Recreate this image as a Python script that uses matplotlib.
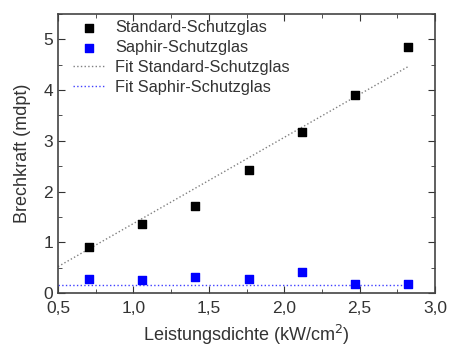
import matplotlib
matplotlib.use("Agg")
from matplotlib import pyplot as plt
from matplotlib.ticker import MultipleLocator, FuncFormatter

plt.rcParams['font.family'] = ['Liberation Sans', 'DejaVu Sans']

# measured values
x = [0.706, 1.06, 1.41, 1.765, 2.12, 2.47, 2.82]
standard = [0.91, 1.37, 1.72, 2.42, 3.17, 3.90, 4.84]
saphir = [0.28, 0.26, 0.31, 0.27, 0.41, 0.18, 0.17]

# fit lines (end points)
fit_x = [0.5, 2.82]
fit_standard = [0.52, 4.46]
fit_saphir = [0.16, 0.16]

fig = plt.figure(figsize=(4.59, 3.5), dpi=100)
ax = fig.add_axes([58/459, 1-293/350, 377/459, 279/350])

ax.plot(fit_x, fit_standard, ':', color='#808080', lw=1.0, label='Fit Standard-Schutzglas')
ax.plot(fit_x, fit_saphir, ':', color='#4040ff', lw=1.0, label='Fit Saphir-Schutzglas')
ax.scatter(x, standard, marker='s', s=36, color='black', label='Standard-Schutzglas', zorder=3)
ax.scatter(x, saphir, marker='s', s=36, color='#0000ff', label='Saphir-Schutzglas', zorder=3)

ax.set_xlim(0.5, 3.0)
ax.set_ylim(0, 5.5)
ax.xaxis.set_major_locator(MultipleLocator(0.5))
ax.xaxis.set_minor_locator(MultipleLocator(0.25))
ax.yaxis.set_major_locator(MultipleLocator(1))
ax.yaxis.set_minor_locator(MultipleLocator(0.5))
ax.xaxis.set_major_formatter(FuncFormatter(lambda v, p: ('%.1f' % v).replace('.', ',')))
ax.tick_params(which='both', direction='in', top=True, right=True, colors='#333333',
               labelcolor='#333333', labelsize=12.5)
ax.tick_params(which='major', length=5)
ax.tick_params(which='minor', length=3)
ax.tick_params(axis='x', pad=6)
for s in ax.spines.values():
    s.set_color('#444444')
    s.set_linewidth(1.2)

ax.set_xlabel('Leistungsdichte (kW/cm$^2$)', fontsize=13, color='#333333', labelpad=5)
ax.set_ylabel('Brechkraft (mdpt)', fontsize=13, color='#333333', labelpad=9)

handles, labels = ax.get_legend_handles_labels()
order = [2, 3, 0, 1]
ax.legend([handles[i] for i in order], [labels[i] for i in order], loc='upper left',
          frameon=False, fontsize=11.8, bbox_to_anchor=(0.0, 1.03), handlelength=2.0,
          handletextpad=0.6, labelspacing=0.3, labelcolor='#333333')

fig.savefig('out.png', dpi=100)
